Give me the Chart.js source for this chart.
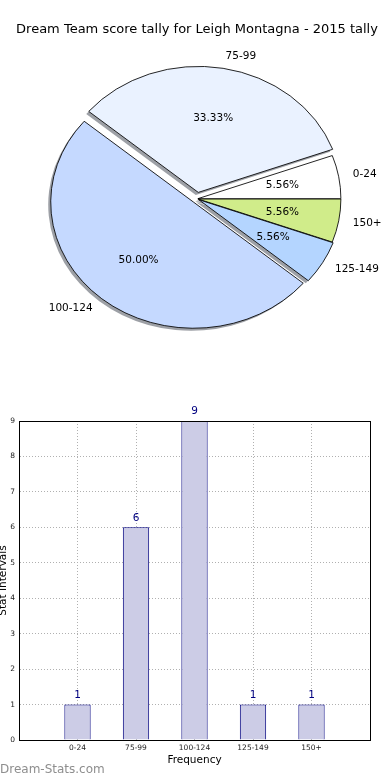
<!DOCTYPE html>
<html>
<head>
<meta charset="utf-8">
<script src="https://cdn.jsdelivr.net/npm/chart.js@4.4.1/dist/chart.umd.min.js"></script>
<style>
    html, body { margin: 0; padding: 0; background: #fff; }
    #page { position: relative; width: 390px; height: 780px; overflow: hidden; }
    #pieChart { position: absolute; left: 0; top: 0; }
    #barChart { position: absolute; left: 0; top: 400px; }
    .watermark {
        position: absolute; left: 0; top: 762px;
        font: 12px "DejaVu Sans", sans-serif; color: #8e8e8e;
    }
</style>
</head>
<body>
<div id="page">
    <canvas id="pieChart" width="390" height="360"></canvas>
    <canvas id="barChart" width="390" height="380"></canvas>
    <div class="watermark">Dream-Stats.com</div>
</div>
<script>
const titleText = 'Dream Team score tally for Leigh Montagna - 2015 tally';
const categories = ['0-24', '75-99', '100-124', '125-149', '150+'];
const counts = [1, 6, 9, 1, 1];
const yTicks = [0, 1, 2, 3, 4, 5, 6, 7, 8, 9];

// slice styling, same order as categories
const sliceColors = ['#ffffff', '#eaf2ff', '#c5d9ff', '#b4d5ff', '#d0ec8a'];
const sliceExplode = [0.8, 6.5, 4.5, 1.8, 0.8];

const FONT = 'DejaVu Sans';
const X_STRETCH = 143 / 126;

// matplotlib draws counter-clockwise from 3 o'clock; Chart.js goes clockwise
const pieOrder = categories.map((_, i) => i).reverse();

const pieExtras = {
    id: 'pieExtras',
    afterDatasetUpdate(chart) {
        const arcs = chart.getDatasetMeta(0).data;
        arcs.forEach((arc, i) => {
            const e = sliceExplode[pieOrder[i]];
            const mid = (arc.startAngle + arc.endAngle) / 2;
            arc.x += Math.cos(mid) * e;
            arc.y += Math.sin(mid) * e;
        });
    },
    beforeDatasetsDraw(chart) {
        const { ctx, chartArea } = chart;
        const cx = (chartArea.left + chartArea.right) / 2;
        const cy = (chartArea.top + chartArea.bottom) / 2;
        ctx.save();
        ctx.translate(cx, cy);
        ctx.scale(X_STRETCH, 1);
        ctx.translate(-cx, -cy);
        // shadows go under every wedge
        const arcs = chart.getDatasetMeta(0).data;
        arcs.forEach(arc => {
            const ox = -2.5 / X_STRETCH, oy = 2.5;
            ctx.beginPath();
            ctx.moveTo(arc.x + ox, arc.y + oy);
            ctx.arc(arc.x + ox, arc.y + oy, arc.outerRadius, arc.startAngle, arc.endAngle);
            ctx.closePath();
            ctx.fillStyle = 'rgba(60, 65, 77, 0.5)';
            ctx.fill();
        });
    },
    afterDatasetsDraw(chart) {
        const { ctx, chartArea } = chart;
        ctx.restore();
        const cx = (chartArea.left + chartArea.right) / 2;
        const total = counts.reduce((a, b) => a + b, 0);
        const arcs = chart.getDatasetMeta(0).data;
        ctx.save();
        ctx.fillStyle = '#000';
        ctx.font = '10.5px "' + FONT + '"';
        ctx.textBaseline = 'middle';
        arcs.forEach((arc, i) => {
            const k = pieOrder[i];
            const mid = (arc.startAngle + arc.endAngle) / 2;
            const r = arc.outerRadius;
            const lx = cx + (arc.x + Math.cos(mid) * r * 1.1 - cx) * X_STRETCH;
            const ly = arc.y + Math.sin(mid) * r * 1.1;
            ctx.textAlign = lx > cx ? 'left' : 'right';
            ctx.fillText(categories[k], lx, ly);
            const px = cx + (arc.x + Math.cos(mid) * r * 0.6 - cx) * X_STRETCH;
            const py = arc.y + Math.sin(mid) * r * 0.6;
            ctx.textAlign = 'center';
            ctx.fillText((counts[k] / total * 100).toFixed(2) + '%', px, py);
        });
        ctx.restore();
    }
};

new Chart(document.getElementById('pieChart'), {
    type: 'pie',
    data: {
        labels: pieOrder.map(i => categories[i]),
        datasets: [{
            data: pieOrder.map(i => counts[i]),
            backgroundColor: pieOrder.map(i => sliceColors[i]),
            borderColor: '#000',
            borderWidth: 0.8,
            radius: 126
        }]
    },
    options: {
        responsive: false,
        animation: false,
        rotation: 90,
        layout: { padding: { left: 4, right: 0, top: 0, bottom: 0 } },
        plugins: {
            legend: { display: false },
            tooltip: { enabled: false },
            title: {
                display: true,
                text: titleText,
                color: '#000',
                font: { family: FONT, size: 13, weight: 'normal' },
                padding: { top: 22, bottom: 0 }
            }
        },
        events: []
    },
    plugins: [pieExtras]
});

const barExtras = {
    id: 'barExtras',
    afterDatasetsDraw(chart) {
        const { ctx } = chart;
        ctx.save();
        ctx.fillStyle = '#000080';
        ctx.font = '10.5px "' + FONT + '"';
        ctx.textAlign = 'center';
        ctx.textBaseline = 'middle';
        chart.getDatasetMeta(0).data.forEach((bar, i) => {
            ctx.fillText(String(counts[i]), bar.x, bar.y - 9.5);
        });
        ctx.restore();
    },
    afterDraw(chart) {
        const { ctx, chartArea: a } = chart;
        ctx.save();
        ctx.strokeStyle = '#000';
        ctx.lineWidth = 1;
        ctx.strokeRect(Math.round(a.left) + 0.5, Math.round(a.top) + 0.5,
            Math.round(a.right - a.left), Math.round(a.bottom - a.top));
        ctx.restore();
    }
};

new Chart(document.getElementById('barChart'), {
    type: 'bar',
    data: {
        datasets: [{
            data: counts.map((v, i) => ({ x: i + 1, y: v })),
            backgroundColor: '#ccccE6',
            borderColor: '#000080',
            borderWidth: 1,
            barPercentage: 0.45,
            categoryPercentage: 1
        }]
    },
    options: {
        responsive: false,
        animation: false,
        events: [],
        layout: { padding: { top: 21, right: 20, left: 0, bottom: 0 } },
        plugins: { legend: { display: false }, tooltip: { enabled: false } },
        scales: {
            x: {
                type: 'linear',
                min: 0,
                max: categories.length + 1,
                offset: false,
                z: 1,
                afterFit(scale) { scale.height = 40; },
                afterBuildTicks(scale) {
                    scale.ticks = [0, 1, 2, 3, 4, 5, 6].map(v => ({ value: v }));
                },
                ticks: {
                    autoSkip: false,
                    maxRotation: 0,
                    padding: 4,
                    color: '#222',
                    font: { family: FONT, size: 7.5 },
                    callback: v => categories[v - 1] || ''
                },
                grid: { color: '#b0b0b0', drawTicks: false, offset: false },
                border: { display: true, color: '#000', dash: [1, 2] },
                title: {
                    display: true,
                    text: 'Frequency',
                    color: '#000',
                    font: { family: FONT, size: 10.5 },
                    padding: { top: 0, bottom: 13.5 }
                }
            },
            y: {
                min: 0,
                max: 9,
                z: 1,
                afterFit(scale) { scale.width = 19; },
                afterBuildTicks(scale) {
                    scale.ticks = yTicks.map(v => ({ value: v }));
                },
                ticks: {
                    padding: 4,
                    color: '#222',
                    font: { family: FONT, size: 7.5 }
                },
                grid: { color: '#b0b0b0', drawTicks: false },
                border: { display: true, color: '#000', dash: [1, 2] },
                title: {
                    display: true,
                    text: 'Stat Intervals',
                    color: '#000',
                    font: { family: FONT, size: 10.5 },
                    padding: { top: -3, bottom: 0 }
                }
            }
        }
    },
    plugins: [barExtras]
});
</script>
</body>
</html>
